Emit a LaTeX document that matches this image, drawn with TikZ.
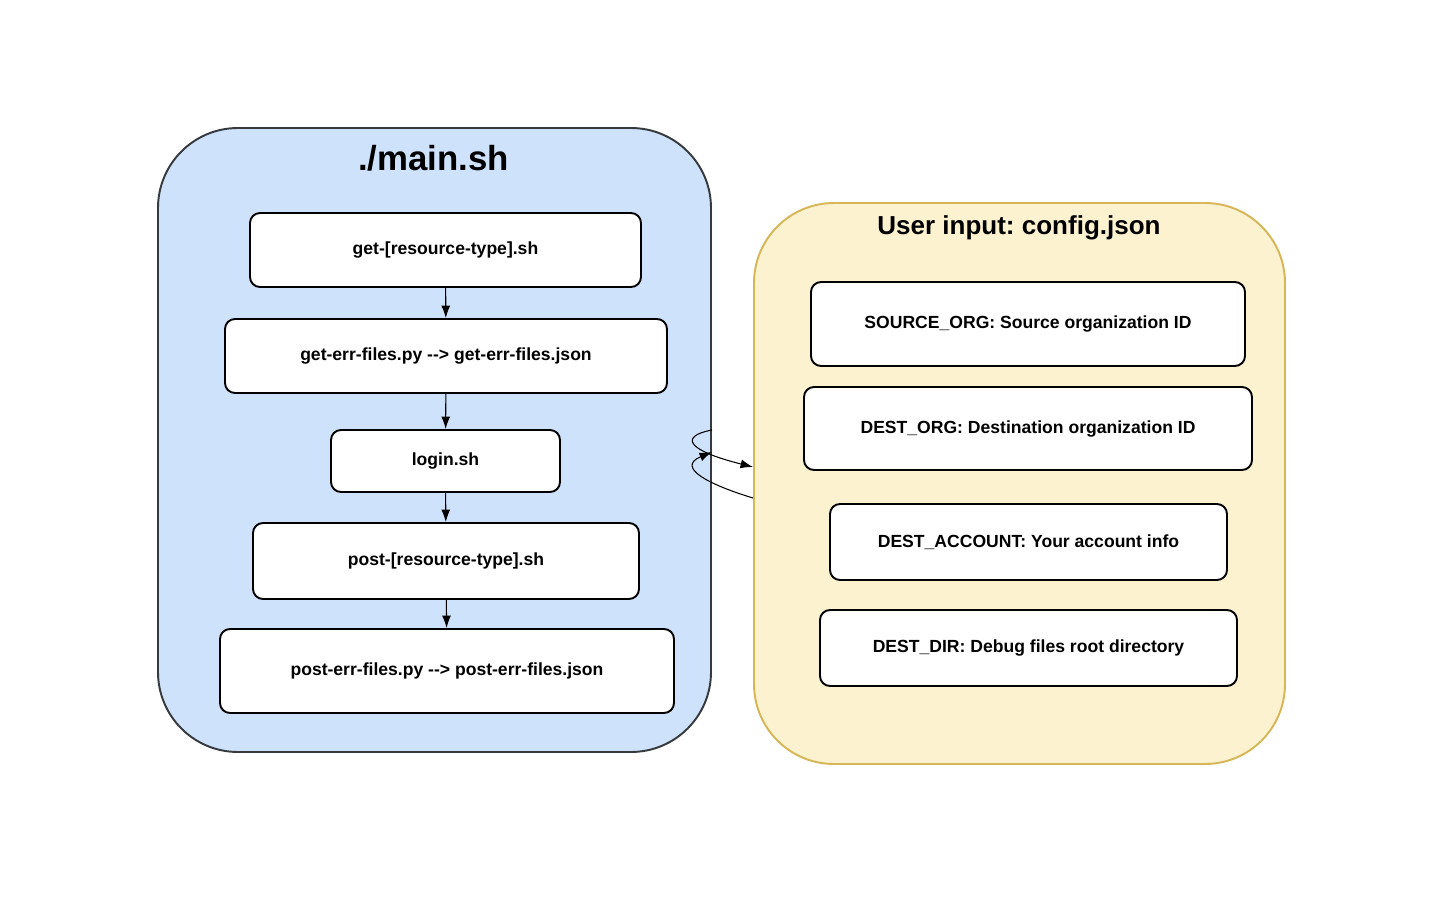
\documentclass[tikz,border=0pt]{standalone}
\usepackage{fontspec}
\setmainfont{Liberation Sans}
\usetikzlibrary{arrows.meta}
\frenchspacing
\definecolor{mainfill}{HTML}{CFE2FB}
\definecolor{maindraw}{HTML}{36393D}
\definecolor{cfgfill}{HTML}{FDF2D0}
\definecolor{cfgdraw}{HTML}{D6B656}
\tikzset{
  container/.style={shape=rectangle,rounded corners=1.6cm,line width=1.1pt},
  scriptbox/.style={fill=white,shape=rectangle,draw,line width=1.1pt,rounded corners=0.2cm,font=\bfseries\fontsize{10}{12}\selectfont},
  flow/.style={-{Latex[length=2.5mm,width=1.8mm]},line width=0.6pt}
}
\begin{document}
\begin{tikzpicture}
\useasboundingbox (0,0) rectangle (29,-18.04);
\node[container,fill=mainfill,draw=maindraw,minimum width=11.06cm,minimum height=12.48cm](MAIN) at (8.69,-8.80){};
\node[font=\bfseries\fontsize{19.8}{23}\selectfont](MT) at (8.67,-3.16){./main.sh};
\node[container,fill=cfgfill,draw=cfgdraw,minimum width=10.62cm,minimum height=11.22cm](CFG) at (20.39,-9.67){};
\node[font=\bfseries\fontsize{14.8}{17}\selectfont](CT) at (20.38,-4.55){User input: config.json};
% scripts run by main.sh
\node[scriptbox,minimum width=7.82cm,minimum height=1.48cm](GET) at (8.91,-5.00){get-[resource-type].sh};
\node[scriptbox,minimum width=8.84cm,minimum height=1.48cm](ERR1) at (8.92,-7.12){get-err-files.py -{}-> get-err-files.json};
\node[scriptbox,minimum width=4.58cm,minimum height=1.24cm](LOG) at (8.91,-9.22){login.sh};
\node[scriptbox,minimum width=7.72cm,minimum height=1.52cm](POST) at (8.92,-11.22){post-[resource-type].sh};
\node[scriptbox,minimum width=9.08cm,minimum height=1.68cm](ERR2) at (8.94,-13.42){post-err-files.py -{}-> post-err-files.json};
\draw[flow] (GET) -- (ERR1);
\draw[flow] (ERR1) -- (LOG);
\draw[flow] (LOG) -- (POST);
\draw[flow] (POST) -- (ERR2);
% config entries
\node[scriptbox,minimum width=8.68cm,minimum height=1.68cm](SRC) at (20.56,-6.48){SOURCE\_ORG: Source organization ID};
\node[scriptbox,minimum width=8.96cm,minimum height=1.66cm](DORG) at (20.56,-8.57){DEST\_ORG: Destination organization ID};
\node[scriptbox,minimum width=7.94cm,minimum height=1.52cm](DACC) at (20.57,-10.84){DEST\_ACCOUNT: Your account info};
\node[scriptbox,minimum width=8.34cm,minimum height=1.52cm](DDIR) at (20.57,-12.96){DEST\_DIR: Debug files root directory};
% links between the two
\draw[flow] ([yshift=0.2cm]MAIN.east) .. controls (13.6,-8.72) and (13.7,-9.0) .. ([yshift=0.33cm]CFG.west);
\draw[flow] ([yshift=-0.29cm]CFG.west) .. controls (14.2,-9.7) and (13.5,-9.35) .. ([yshift=-0.24cm]MAIN.east);
\end{tikzpicture}
\end{document}
